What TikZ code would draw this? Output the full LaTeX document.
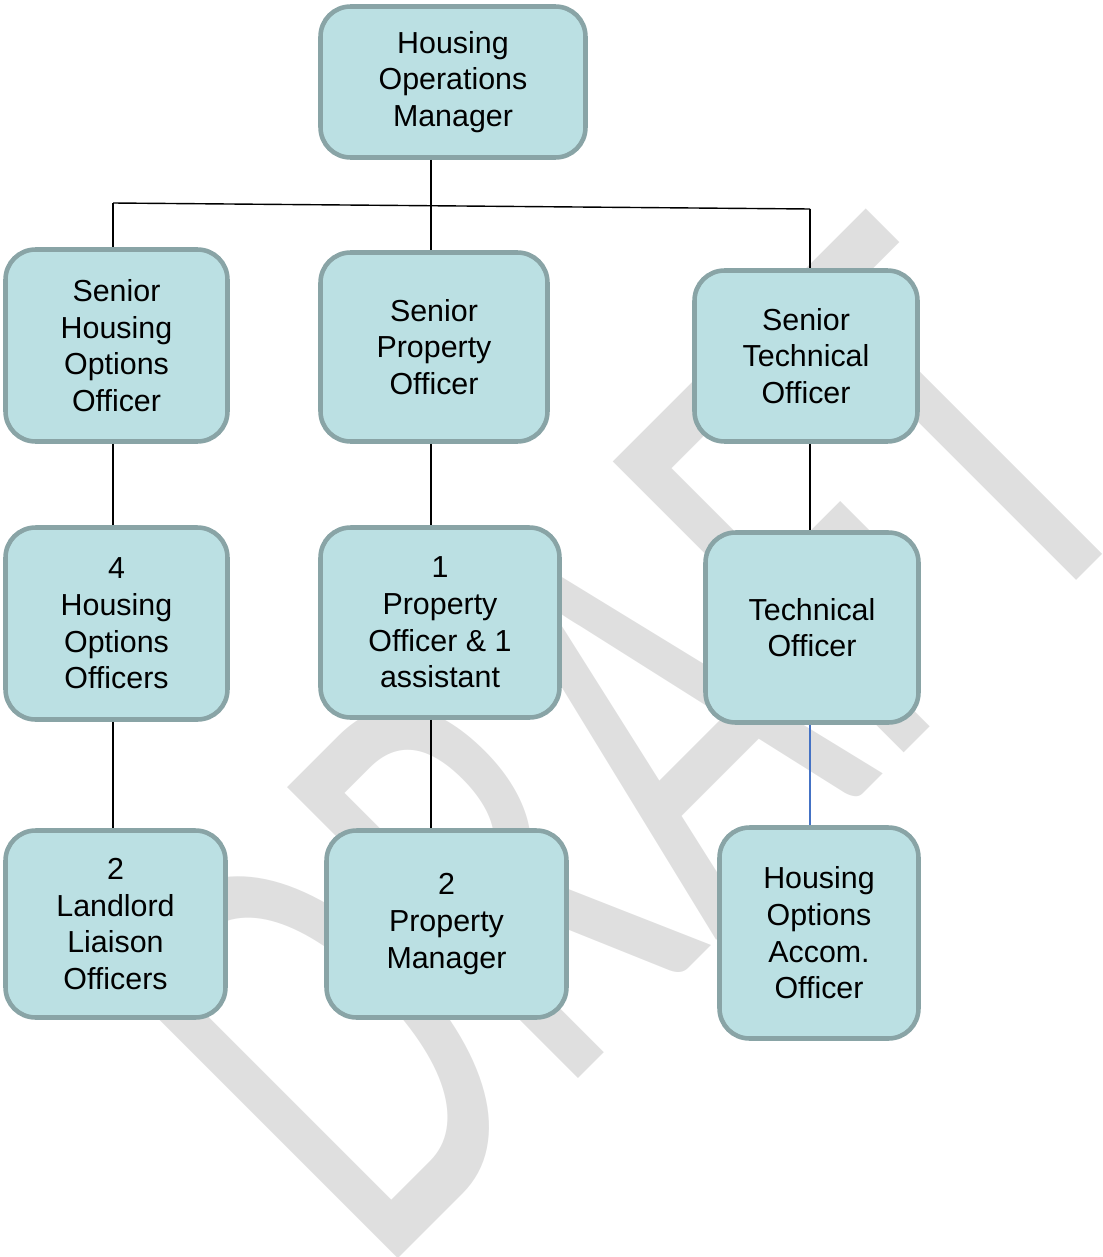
\documentclass[tikz,border=0pt]{standalone}
\usepackage{fontspec}
\setmainfont{Liberation Sans}
\newfontfamily\wmfont{Carlito}
\usepackage{tikz}
\usepackage{xcolor}
\usetikzlibrary{calc,positioning}

\definecolor{postfill}{RGB}{187,224,227}
\definecolor{postline}{RGB}{137,164,166}
\definecolor{wmgrey}{RGB}{223,223,223}
\definecolor{linkblue}{RGB}{68,114,196}

\tikzset{
  post/.style={draw=postline, fill=postfill, line width=2.6pt, rounded corners=0.6cm,
    align=center, inner sep=0pt, font=\fontsize{17.3}{20.9}\selectfont},
  link/.style={line width=0.8pt},
  wmark/.style={rotate=45, xscale=0.643, text=wmgrey, inner sep=0pt, anchor=base west,
    font=\wmfont\fontsize{365}{365}\selectfont}
}

\begin{document}
\begin{tikzpicture}[x=0.02cm, y=-0.02cm]
\useasboundingbox (0,0) rectangle (1102,1257);
% watermark
\node[wmark] (draft) at (378,1279) {DRAFT};
% posts
\node[post, minimum width=5.3cm, minimum height=3.02cm] (hom) at (453,82) {Housing\\Operations\\Manager};
\node[post, minimum width=4.44cm, minimum height=3.84cm] (sho) at (116.5,345.5) {Senior\\Housing\\Options\\Officer};
\node[post, minimum width=4.54cm, minimum height=3.78cm] (spo) at (434,347) {Senior\\Property\\Officer};
\node[post, minimum width=4.46cm, minimum height=3.42cm] (sto) at (806,356) {Senior\\Technical\\Officer};
\node[post, minimum width=4.44cm, minimum height=3.84cm] (hoo) at (116.5,623.5) {4\\Housing\\Options\\Officers};
\node[post, minimum width=4.78cm, minimum height=3.8cm] (po) at (440,622.5) {1\\Property\\Officer \& 1\\assistant};
\node[post, minimum width=4.26cm, minimum height=3.8cm] (to) at (812,627.5) {Technical\\Officer};
\node[post, minimum width=4.4cm, minimum height=3.74cm] (llo) at (115.5,924) {2\\Landlord\\Liaison\\Officers};
\node[post, minimum width=4.8cm, minimum height=3.74cm] (pm) at (446.5,924) {2\\Property\\Manager};
\node[post, minimum width=3.98cm, minimum height=4.22cm] (hoa) at (819,933) {Housing\\Options\\Accom.\\Officer};
% bus line
\coordinate (busL) at (113,203);
\coordinate (busM) at (431,206);
\coordinate (busR) at (810,209);
\draw[link] (busL) -- (busR);
\draw[link] (busM |- hom.south) -- (busM);
\draw[link] (busL) -- (busL |- sho.north);
\draw[link] (busM) -- (busM |- spo.north);
\draw[link] (busR) -- (busR |- sto.north);
% lower links
\draw[link] (busL |- sho.south) -- (busL |- hoo.north);
\draw[link] (busM |- spo.south) -- (busM |- po.north);
\draw[link] (busR |- sto.south) -- (busR |- to.north);
\draw[link] (busL |- hoo.south) -- (busL |- llo.north);
\draw[link] (busM |- po.south) -- (busM |- pm.north);
\draw[link, linkblue] (busR |- to.south) -- (busR |- hoa.north);
\end{tikzpicture}
\end{document}
